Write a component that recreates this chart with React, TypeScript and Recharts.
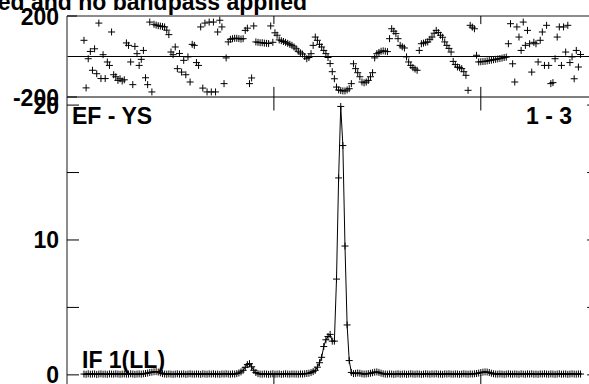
import { Line, LineChart, ReferenceLine, Scatter, ScatterChart, XAxis, YAxis } from 'recharts';

// channel numbering of the first plotted point; both series run one value per channel
const firstChannel = 8;

// phase (degrees), channels 8..242
const phaseDeg = [
  80, -155, -11, 25, -68, 38, -85, 165, -109, 9,
  -109, -27, -44, 121, -90, -100, -118, -110, -121, -115,
  67, 55, -27, -139, 50, 14, -44, -14, 30, -105,
  -139, 170, -175, 159, 155, 152, 150, 148, 146, 130,
  108, 22, 9, 47, -60, 15, -77, -19, -90, -2,
  -126, 60, 55, -30, -44, 146, -156, 165, -175, 170,
  -175, 170, -175, 121, 179, 146, -134, -7, 72, 85,
  88, 90, 90, 88, 86, 88, 129, 140, -134, -106,
  151, 72, 70, 68, 68, 66, 65, 64, 151, 70,
  117, 105, 82, 78, 74, 70, 65, 60, 55, 47,
  38, 26, 18, 12, 0, -11, -5, 14, 55, 96,
  80, 60, 47, 30, 14, -5, -35, -75, -110, -151,
  -165, -168, -170, -170, -165, -159, -134, -36, -60, -80,
  -100, -126, -130, -126, -118, -100, -80, -7, 14, 20,
  26, 28, 26, 24, 88, 137, 125, 113, 88, 55,
  48, 42, -2, -27, -44, -55, -62, -68, 30, 63,
  66, 70, 72, 85, 96, 115, 129, 118, 105, 95,
  72, 55, 40, 22, -24, -40, -52, -55, -60, -75,
  -93, -167, 154, 145, 137, 6, -27, -26, -25, -24,
  -22, -20, -18, -16, -14, -12, -10, -8, -5, -3,
  63, 162, -36, -126, 146, 96, 30, 170, 55, 129,
  63, -77, 70, 63, -27, 80, 121, -44, 154, -44,
  -134, -129, -11, 96, 146, -44, 146, 22, 154, -30,
  -2, -110, 30, -52, 10,
];

// amplitude, channels 8..242
const amplitude = [
  0.06, 0.04, 0.08, 0.05, 0.06, 0.07, 0.03, 0.06, 0.08, 0.05,
  0.06, 0.04, 0.07, 0.06, 0.05, 0.08, 0.06, 0.04, 0.06, 0.07,
  0.05, 0.06, 0.08, 0.06, 0.04, 0.06, 0.07, 0.05, 0.08, 0.1,
  0.13, 0.17, 0.2, 0.23, 0.24, 0.21, 0.15, 0.09, 0.06, 0.05,
  0.07, 0.06, 0.04, 0.06, 0.08, 0.05, 0.06, 0.07, 0.04, 0.06,
  0.08, 0.06, 0.05, 0.07, 0.06, 0.04, 0.08, 0.06, 0.05, 0.07,
  0.06, 0.08, 0.05, 0.06, 0.04, 0.07, 0.06, 0.08, 0.06, 0.05,
  0.07, 0.06, 0.09, 0.14, 0.22, 0.34, 0.56, 0.76, 0.83, 0.6,
  0.34, 0.17, 0.09, 0.06, 0.05, 0.07, 0.06, 0.04, 0.06, 0.08,
  0.05, 0.06, 0.07, 0.04, 0.06, 0.08, 0.06, 0.05, 0.07, 0.06,
  0.06, 0.05, 0.07, 0.06, 0.08, 0.1, 0.12, 0.17, 0.24, 0.34,
  0.57, 0.9, 1.3, 2.1, 2.6, 2.84, 3.0, 2.5, 2.5, 7.1,
  14.6, 19.9, 17.0, 9.55, 3.7, 1.06, 0.18, 0.09, 0.11, 0.14,
  0.12, 0.08, 0.06, 0.07, 0.09, 0.12, 0.16, 0.2, 0.22, 0.18,
  0.12, 0.08, 0.06, 0.05, 0.07, 0.06, 0.04, 0.06, 0.08, 0.05,
  0.06, 0.07, 0.04, 0.06, 0.08, 0.06, 0.05, 0.07, 0.06, 0.04,
  0.06, 0.08, 0.06, 0.05, 0.07, 0.06, 0.08, 0.05, 0.06, 0.04,
  0.07, 0.06, 0.08, 0.06, 0.05, 0.07, 0.06, 0.04, 0.06, 0.08,
  0.06, 0.05, 0.07, 0.06, 0.08, 0.1, 0.13, 0.17, 0.2, 0.22,
  0.21, 0.17, 0.12, 0.08, 0.06, 0.05, 0.07, 0.06, 0.04, 0.06,
  0.08, 0.06, 0.05, 0.07, 0.06, 0.04, 0.08, 0.06, 0.05, 0.07,
  0.06, 0.08, 0.05, 0.06, 0.04, 0.07, 0.06, 0.08, 0.06, 0.05,
  0.07, 0.06, 0.04, 0.06, 0.08, 0.05, 0.06, 0.07, 0.04, 0.06,
  0.08, 0.06, 0.05, 0.07, 0.06,
];

const channelTicks = [97.5, 195];
const phaseTicks = [-200, 200];
const ampTicks = [0, 5, 10, 15, 20];
const ampLabelled = [0, 10, 20];

const titleText = 'ed and no bandpass applied';
const baselineText = 'EF - YS';
const pairText = '1 - 3';
const ifText = 'IF 1(LL)';

const phaseData = phaseDeg.map((phase, i) => ({ ch: firstChannel + i, phase }));
const ampData = amplitude.map((amp, i) => ({ ch: firstChannel + i, amp }));

const xDomain: [number, number] = [0, 250.7];
const phaseDomain: [number, number] = [-200, 200];
const ampDomain: [number, number] = [-0.9, 20.6];

const font = "'Liberation Sans', Arial, Helvetica, sans-serif";
const fontSize = 23;
const gray = '#666';

const plusPath = (cx: number, cy: number, r = 3.5) =>
  `M${cx - r},${cy}H${cx + r}M${cx},${cy - r}V${cy + r}`;

const PlusShape = (props: any) => {
  const { cx, cy } = props;
  if (cx == null || cy == null) return <g />;
  return <path d={plusPath(cx, cy)} stroke="#000" strokeWidth={1} fill="none" />;
};

const PlusDot = (props: any) => {
  const { cx, cy, index } = props;
  if (cx == null || cy == null) return <g key={`d-${index}`} />;
  return <path key={`d-${index}`} d={plusPath(cx, cy)} stroke="#000" strokeWidth={1} fill="none" />;
};

// label to the left plus a short tick pointing into the plot
const LeftTick = (props: any) => {
  const { x, y, payload, len, labels } = props;
  const v = payload.value;
  const show = !labels || labels.includes(v);
  return (
    <g>
      <line x1={x} y1={y} x2={x + len} y2={y} stroke="#000" strokeWidth={1} />
      {show && (
        <text x={x - 8} y={y + 8.5} textAnchor="end" fontFamily={font} fontWeight="bold" fontSize={fontSize} fill="#000">
          {v}
        </text>
      )}
    </g>
  );
};

export default function App() {
  return (
    <div style={{ position: 'absolute', left: 0, top: 0, width: 589, height: 384, overflow: 'hidden', background: '#fff' }}>
      {/* amplitude panel */}
      <div style={{ position: 'absolute', left: 0, top: 0 }}>
        <LineChart width={600} height={400} data={ampData} margin={{ top: 97, right: 1, bottom: 13, left: 0 }}>
          <XAxis type="number" dataKey="ch" domain={xDomain} hide />
          <YAxis
            type="number"
            domain={ampDomain}
            ticks={ampTicks}
            width={67}
            tickSize={0}
            tickMargin={0}
            tickLine={false}
            axisLine={{ stroke: gray, strokeWidth: 1.5 }}
            tick={(p: any) => <LeftTick {...p} len={12} labels={ampLabelled} />}
            allowDataOverflow
          />
          {channelTicks.map((c) => (
            <ReferenceLine key={`bt-${c}`} segment={[{ x: c, y: ampDomain[1] }, { x: c, y: 19.6 }]} stroke="#000" />
          ))}
          {channelTicks.map((c) => (
            <ReferenceLine key={`bb-${c}`} segment={[{ x: c, y: ampDomain[0] }, { x: c, y: 0 }]} stroke="#000" />
          ))}
          {ampTicks.map((t) => (
            <ReferenceLine key={`br-${t}`} segment={[{ x: xDomain[1] - 5.6, y: t }, { x: xDomain[1], y: t }]} stroke="#000" />
          ))}
          <Line
            type="linear"
            dataKey="amp"
            stroke="#000"
            strokeWidth={1}
            dot={PlusDot}
            activeDot={false}
            isAnimationActive={false}
          />
        </LineChart>
      </div>

      {/* phase panel */}
      <div style={{ position: 'absolute', left: 0, top: 0 }}>
        <ScatterChart width={600} height={112} margin={{ top: 16, right: 1, bottom: 15, left: 0 }}>
          <XAxis type="number" dataKey="ch" domain={xDomain} hide />
          <YAxis
            type="number"
            dataKey="phase"
            domain={phaseDomain}
            ticks={phaseTicks}
            width={67}
            tickSize={0}
            tickMargin={0}
            tickLine={false}
            axisLine={{ stroke: gray, strokeWidth: 1.5 }}
            tick={(p: any) => <LeftTick {...p} len={10} />}
          />
          <ReferenceLine y={200} stroke={gray} strokeWidth={1.5} />
          <ReferenceLine y={0} stroke="#000" />
          <ReferenceLine y={-200} stroke="#000" />
          {channelTicks.map((c) => (
            <ReferenceLine key={`tt-${c}`} segment={[{ x: c, y: 200 }, { x: c, y: 160 }]} stroke="#000" />
          ))}
          {channelTicks.map((c) => (
            <ReferenceLine key={`tb-${c}`} segment={[{ x: c, y: -200 }, { x: c, y: -150 }]} stroke="#000" />
          ))}
          <Scatter data={phaseData} shape={PlusShape} isAnimationActive={false} />
        </ScatterChart>
      </div>

      {/* text labels */}
      <svg width={589} height={384} style={{ position: 'absolute', left: 0, top: 0, pointerEvents: 'none' }}>
        <g fontFamily={font} fontWeight="bold" fontSize={fontSize} fill="#000">
          <text x={307} y={10} textAnchor="end">{titleText}</text>
          <text x={72} y={124}>{baselineText}</text>
          <text x={572} y={124} textAnchor="end">{pairText}</text>
          <text x={82} y={368}>{ifText}</text>
        </g>
      </svg>
    </div>
  );
}
